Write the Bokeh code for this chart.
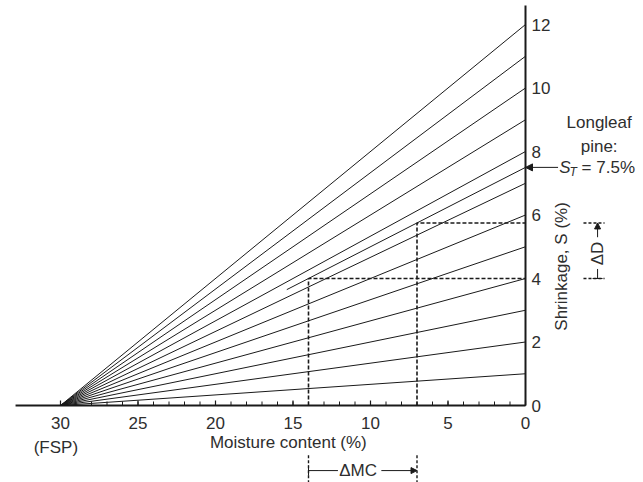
import math
from bokeh.plotting import figure
from bokeh.models import Range1d, Arrow, NormalHead, TeeHead, ColumnDataSource
from bokeh.core.properties import value
from bokeh.embed import file_html
from bokeh.resources import INLINE

# ---- data ----
fsp = 30                                   # fibre saturation point (%)
fan_total_shrinkage = [1, 2, 3, 4, 5, 6, 7, 8, 9, 10, 11, 12]   # S_T of each fan line (%)
longleaf_st = 7.5                          # longleaf pine total shrinkage (%)
longleaf_start_mc = 15.4                   # where the longleaf line begins (%)
example_mc = [14, 7]                       # moisture contents of the worked example (%)
example_shrinkage = [4.0, 5.75]            # read shrinkage at those MCs (%)
x_ticks = [0, 5, 10, 15, 20, 25, 30]
x_tick_labels = ["0", "5", "10", "15", "20", "25", "30"]
x_minor = list(range(0, 31))
y_ticks = [0, 2, 4, 6, 8, 10, 12]
y_tick_labels = ["0", "2", "4", "6", "8", "10", "12"]
x_axis_extent = [32.9, 0]
y_axis_extent = [0, 12.6]

FONT = "Liberation Sans"
FS = "17px"
TXT = "#2e2e2e"
INK = "#1a1a1a"

W, H = 643, 482
p = figure(width=W, height=H, x_range=Range1d(525 / 15.5, (525 - W) / 15.5),
           y_range=Range1d((405 - H) / 31.75, 405 / 31.75),
           output_backend="svg", toolbar_location=None,
           min_border=0, min_border_left=0, min_border_right=0, min_border_top=0, min_border_bottom=0)
p.axis.visible = False
p.outline_line_color = None
p.grid.visible = False
p.background_fill_color = "white"
p.border_fill_color = "white"

px_x = 1 / 15.5     # data units per pixel
px_y = 1 / 31.75

# ---- axes drawn in data space ----
p.line(x_axis_extent, [0, 0], line_color=INK, line_width=2)
p.line([0, 0], y_axis_extent, line_color=INK, line_width=2)
p.segment(x0=x_minor, y0=[0] * len(x_minor), x1=x_minor, y1=[4 * px_y] * len(x_minor),
          line_color=INK, line_width=1)
p.segment(x0=x_ticks, y0=[0] * len(x_ticks), x1=x_ticks, y1=[5 * px_y] * len(x_ticks),
          line_color=INK, line_width=1.2)
p.text(x=x_ticks, y=[-17 * px_y] * len(x_ticks), text=x_tick_labels,
       text_font=value(FONT), text_font_size=FS, text_color=TXT,
       text_align="center", text_baseline="middle")
p.text(x=[-6 * px_x] * len(y_ticks), y=y_ticks, text=y_tick_labels,
       text_font=value(FONT), text_font_size=FS, text_color=TXT,
       text_align="left", text_baseline="middle")

# fan of shrinkage lines
fan = ColumnDataSource(dict(xs=[[fsp, 0] for _ in fan_total_shrinkage],
                            ys=[[0, s] for s in fan_total_shrinkage]))
p.multi_line("xs", "ys", source=fan, line_color=INK, line_width=1)

# longleaf pine partial line
ll_y0 = longleaf_st * (fsp - longleaf_start_mc) / fsp
p.line([longleaf_start_mc, 0], [ll_y0, longleaf_st], line_color=INK, line_width=1)

# dashed worked-example lines
for mc, s in zip(example_mc, example_shrinkage):
    p.line([mc, mc, 0], [0, s, s], line_color=INK, line_width=1.6, line_dash="4 2")

# ---- annotations ----
def lab(x, y, t, size=FS, align="center", base="middle", angle=0, style="normal"):
    p.text(x=[x], y=[y], text=[t], text_font=value(FONT), text_font_size=size,
           text_color=TXT, text_align=align, text_baseline=base,
           angle=angle, text_font_style=style)

lab(30.3, -1.33, "(FSP)")
lab(15.3, -1.16, "Moisture content (%)")
lab(-2.32, 4.38, "Shrinkage, S (%)", angle=math.pi / 2)

# Longleaf pine
lab(-4.75, 8.91, "Longleaf")
lab(-4.75, 8.16, "pine:")
lab(-2.18, longleaf_st, "S", align="left", style="italic")
lab(-2.84, longleaf_st - 0.15, "T", size="12px", align="left", style="italic")
lab(-3.62, longleaf_st, "= 7.5%", align="left")
p.add_layout(Arrow(x_start=-2.1, y_start=longleaf_st, x_end=0, y_end=longleaf_st,
                   line_color=INK, line_width=1,
                   end=NormalHead(size=7, fill_color=INK, line_color=INK), start=None))

# Delta MC dimension
dim_y = -2.05
for mc in example_mc:
    p.line([mc, mc], [-1.57, -2.43], line_color=INK, line_width=1.4, line_dash="3 2")
lab((example_mc[0] + example_mc[1]) / 2 + 0.3, dim_y, "\u0394MC")
p.add_layout(Arrow(x_start=example_mc[0] - 1.9, y_start=dim_y, x_end=example_mc[0], y_end=dim_y,
                   start=None, end=TeeHead(size=10, line_color=INK, line_width=1),
                   line_color=INK, line_width=1))
p.add_layout(Arrow(x_start=example_mc[1] + 2.3, y_start=dim_y, x_end=example_mc[1], y_end=dim_y,
                   start=None, end=NormalHead(size=6, fill_color=INK, line_color=INK),
                   line_color=INK, line_width=1))

# Delta D dimension
dd_x = -4.65
for s in example_shrinkage:
    p.line([-3.74, -5.1], [s, s], line_color=INK, line_width=1.4, line_dash="3 2")
lab(dd_x, 4.79, "\u0394D", angle=math.pi / 2)
p.add_layout(Arrow(x_start=dd_x, y_start=4.3, x_end=dd_x, y_end=example_shrinkage[0],
                   start=None, end=TeeHead(size=10, line_color=INK, line_width=1),
                   line_color=INK, line_width=1))
p.add_layout(Arrow(x_start=dd_x, y_start=5.3, x_end=dd_x, y_end=example_shrinkage[1],
                   start=None, end=NormalHead(size=6, fill_color=INK, line_color=INK),
                   line_color=INK, line_width=1))

open("out.html", "w").write(file_html(p, INLINE))
